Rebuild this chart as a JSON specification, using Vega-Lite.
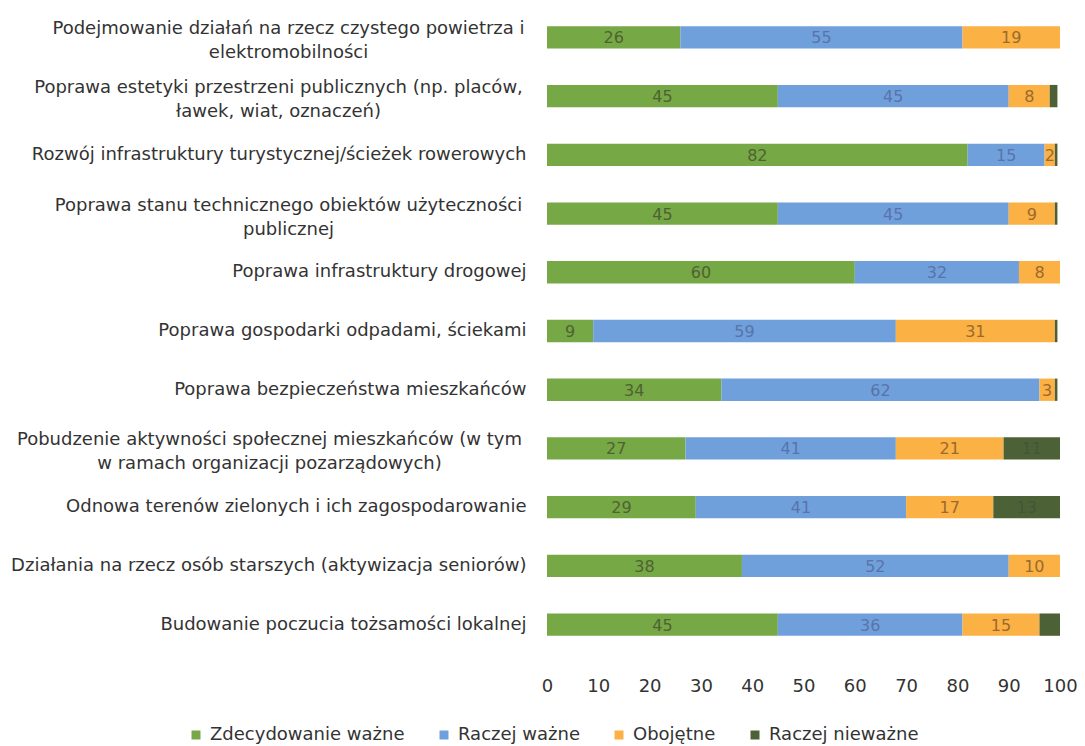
{
  "$schema": "https://vega.github.io/schema/vega-lite/v6.json",
  "width": 513,
  "height": 646,
  "autosize": {"type": "none"},
  "padding": {"left": 547, "top": 8, "right": 25, "bottom": 92},
  "background": "white",
  "config": {
    "view": {"stroke": null},
    "font": "DejaVu Sans",
    "axis": {"labelFont": "DejaVu Sans", "labelColor": "#333333", "labelFontSize": 18}
  },
  "datasets": {
    "rows": [
      {"c": "Podejmowanie działań na rzecz czystego powietrza i|elektromobilności", "s": "Zdecydowanie ważne", "k": 1, "v": 26},
      {"c": "Podejmowanie działań na rzecz czystego powietrza i|elektromobilności", "s": "Raczej ważne", "k": 2, "v": 55},
      {"c": "Podejmowanie działań na rzecz czystego powietrza i|elektromobilności", "s": "Obojętne", "k": 3, "v": 19},
      {"c": "Podejmowanie działań na rzecz czystego powietrza i|elektromobilności", "s": "Raczej nieważne", "k": 4, "v": 0},
      {"c": "Poprawa estetyki przestrzeni publicznych (np. placów,|ławek, wiat, oznaczeń)", "s": "Zdecydowanie ważne", "k": 1, "v": 45},
      {"c": "Poprawa estetyki przestrzeni publicznych (np. placów,|ławek, wiat, oznaczeń)", "s": "Raczej ważne", "k": 2, "v": 45},
      {"c": "Poprawa estetyki przestrzeni publicznych (np. placów,|ławek, wiat, oznaczeń)", "s": "Obojętne", "k": 3, "v": 8},
      {"c": "Poprawa estetyki przestrzeni publicznych (np. placów,|ławek, wiat, oznaczeń)", "s": "Raczej nieważne", "k": 4, "v": 1.5},
      {"c": "Rozwój infrastruktury turystycznej/ścieżek rowerowych", "s": "Zdecydowanie ważne", "k": 1, "v": 82},
      {"c": "Rozwój infrastruktury turystycznej/ścieżek rowerowych", "s": "Raczej ważne", "k": 2, "v": 15},
      {"c": "Rozwój infrastruktury turystycznej/ścieżek rowerowych", "s": "Obojętne", "k": 3, "v": 2},
      {"c": "Rozwój infrastruktury turystycznej/ścieżek rowerowych", "s": "Raczej nieważne", "k": 4, "v": 0.5},
      {"c": "Poprawa stanu technicznego obiektów użyteczności|publicznej", "s": "Zdecydowanie ważne", "k": 1, "v": 45},
      {"c": "Poprawa stanu technicznego obiektów użyteczności|publicznej", "s": "Raczej ważne", "k": 2, "v": 45},
      {"c": "Poprawa stanu technicznego obiektów użyteczności|publicznej", "s": "Obojętne", "k": 3, "v": 9},
      {"c": "Poprawa stanu technicznego obiektów użyteczności|publicznej", "s": "Raczej nieważne", "k": 4, "v": 0.5},
      {"c": "Poprawa infrastruktury drogowej", "s": "Zdecydowanie ważne", "k": 1, "v": 60},
      {"c": "Poprawa infrastruktury drogowej", "s": "Raczej ważne", "k": 2, "v": 32},
      {"c": "Poprawa infrastruktury drogowej", "s": "Obojętne", "k": 3, "v": 8},
      {"c": "Poprawa infrastruktury drogowej", "s": "Raczej nieważne", "k": 4, "v": 0},
      {"c": "Poprawa gospodarki odpadami, ściekami", "s": "Zdecydowanie ważne", "k": 1, "v": 9},
      {"c": "Poprawa gospodarki odpadami, ściekami", "s": "Raczej ważne", "k": 2, "v": 59},
      {"c": "Poprawa gospodarki odpadami, ściekami", "s": "Obojętne", "k": 3, "v": 31},
      {"c": "Poprawa gospodarki odpadami, ściekami", "s": "Raczej nieważne", "k": 4, "v": 0.5},
      {"c": "Poprawa bezpieczeństwa mieszkańców", "s": "Zdecydowanie ważne", "k": 1, "v": 34},
      {"c": "Poprawa bezpieczeństwa mieszkańców", "s": "Raczej ważne", "k": 2, "v": 62},
      {"c": "Poprawa bezpieczeństwa mieszkańców", "s": "Obojętne", "k": 3, "v": 3},
      {"c": "Poprawa bezpieczeństwa mieszkańców", "s": "Raczej nieważne", "k": 4, "v": 0.5},
      {"c": "Pobudzenie aktywności społecznej mieszkańców (w tym|w ramach organizacji pozarządowych)", "s": "Zdecydowanie ważne", "k": 1, "v": 27},
      {"c": "Pobudzenie aktywności społecznej mieszkańców (w tym|w ramach organizacji pozarządowych)", "s": "Raczej ważne", "k": 2, "v": 41},
      {"c": "Pobudzenie aktywności społecznej mieszkańców (w tym|w ramach organizacji pozarządowych)", "s": "Obojętne", "k": 3, "v": 21},
      {"c": "Pobudzenie aktywności społecznej mieszkańców (w tym|w ramach organizacji pozarządowych)", "s": "Raczej nieważne", "k": 4, "v": 11},
      {"c": "Odnowa terenów zielonych i ich zagospodarowanie", "s": "Zdecydowanie ważne", "k": 1, "v": 29},
      {"c": "Odnowa terenów zielonych i ich zagospodarowanie", "s": "Raczej ważne", "k": 2, "v": 41},
      {"c": "Odnowa terenów zielonych i ich zagospodarowanie", "s": "Obojętne", "k": 3, "v": 17},
      {"c": "Odnowa terenów zielonych i ich zagospodarowanie", "s": "Raczej nieważne", "k": 4, "v": 13},
      {"c": "Działania na rzecz osób starszych (aktywizacja seniorów)", "s": "Zdecydowanie ważne", "k": 1, "v": 38},
      {"c": "Działania na rzecz osób starszych (aktywizacja seniorów)", "s": "Raczej ważne", "k": 2, "v": 52},
      {"c": "Działania na rzecz osób starszych (aktywizacja seniorów)", "s": "Obojętne", "k": 3, "v": 10},
      {"c": "Działania na rzecz osób starszych (aktywizacja seniorów)", "s": "Raczej nieważne", "k": 4, "v": 0},
      {"c": "Budowanie poczucia tożsamości lokalnej", "s": "Zdecydowanie ważne", "k": 1, "v": 45},
      {"c": "Budowanie poczucia tożsamości lokalnej", "s": "Raczej ważne", "k": 2, "v": 36},
      {"c": "Budowanie poczucia tożsamości lokalnej", "s": "Obojętne", "k": 3, "v": 15},
      {"c": "Budowanie poczucia tożsamości lokalnej", "s": "Raczej nieważne", "k": 4, "v": 4}
    ]
  },
  "data": {"name": "rows"},
  "encoding": {
    "y": {
      "field": "c", "type": "nominal", "sort": null, "title": null,
      "scale": {"paddingInner": 0.62, "paddingOuter": 0.31},
      "axis": {
        "domain": false, "ticks": false, "labelLimit": 700, "labelLineHeight": 24,
        "labelExpr": "split(datum.label, '|')",
        "labelAlign": {"condition": {"test": "indexof(datum.value, '|') >= 0", "value": "center"}, "value": "right"},
        "labelOffset": {"condition": {"test": "indexof(datum.value, '|') >= 0", "value": -8}, "value": 0},
        "labelPadding": {"condition": [
          {"test": "indexof(datum.value, 'Podejmowanie') >= 0", "value": 259},
          {"test": "indexof(datum.value, 'estetyki') >= 0", "value": 269},
          {"test": "indexof(datum.value, 'technicznego') >= 0", "value": 259},
          {"test": "indexof(datum.value, 'Pobudzenie') >= 0", "value": 278}
        ], "value": 21}
      }
    },
    "x": {
      "field": "v", "type": "quantitative", "title": null, "stack": "zero",
      "scale": {"domain": [0, 100], "nice": false, "zero": true},
      "axis": {"domain": false, "ticks": false, "grid": false, "values": [0,10,20,30,40,50,60,70,80,90,100], "labelPadding": 23, "labelAlign": "center"}
    },
    "order": {"field": "k", "type": "quantitative"}
  },
  "layer": [
    {
      "mark": {"type": "bar"},
      "encoding": {
        "color": {
          "field": "s", "type": "nominal", "title": null,
          "scale": {"domain": ["Zdecydowanie ważne", "Raczej ważne", "Obojętne", "Raczej nieważne"], "range": ["#76a846", "#6fa0dc", "#fbb144", "#4c6236"]},
          "legend": {"orient": "none", "legendX": -360, "legendY": 718, "direction": "horizontal", "symbolType": "square", "symbolSize": 81, "labelFontSize": 18, "labelColor": "#333333", "labelFont": "DejaVu Sans", "labelLimit": 400, "columnPadding": 30, "symbolStrokeWidth": 0, "labelOffset": 5}
        }
      }
    },
    {
      "mark": {"type": "text", "fontSize": 16, "baseline": "middle", "dy": 1},
      "encoding": {
        "x": {"field": "v", "type": "quantitative", "stack": "zero", "bandPosition": 0.5},
        "text": {"condition": {"test": "datum.v >= 2 && (datum.k < 4 || datum.v >= 10)", "field": "v", "type": "quantitative"}, "value": ""},
        "color": {
          "field": "s", "type": "nominal", "legend": null,
          "scale": {"domain": ["Zdecydowanie ważne", "Raczej ważne", "Obojętne", "Raczej nieważne"], "range": ["#4f6232", "#5a73a8", "#9a6a2e", "#42553a"]}
        }
      }
    }
  ],
  "resolve": {"scale": {"color": "independent"}}
}
